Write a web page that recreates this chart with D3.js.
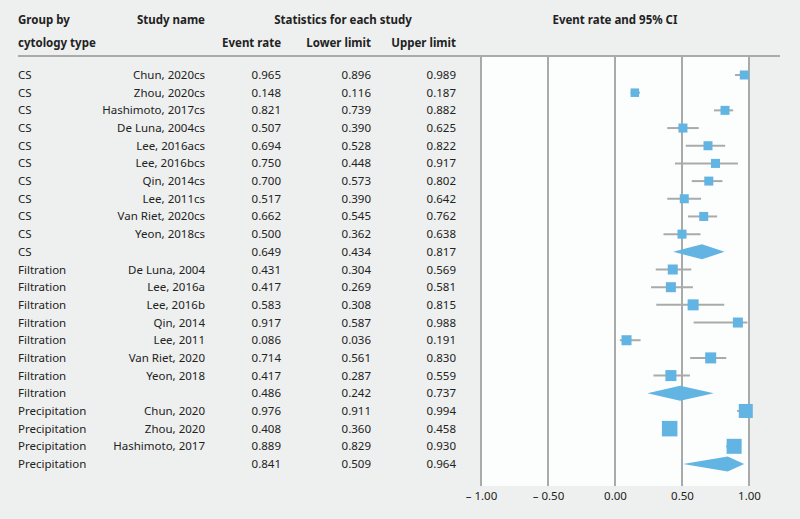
<!DOCTYPE html>
<html><head><meta charset="utf-8">
<script src="https://cdn.jsdelivr.net/npm/d3@7"></script>
<style>
html,body{margin:0;padding:0;background:#eef0ef;}
svg{display:block;font-family:"Noto Sans",sans-serif;}
</style></head>
<body>
<svg id="c" width="800" height="519"></svg>
<script>
const groups = ["CS","CS","CS","CS","CS","CS","CS","CS","CS","CS","CS",
  "Filtration","Filtration","Filtration","Filtration","Filtration","Filtration","Filtration","Filtration",
  "Precipitation","Precipitation","Precipitation","Precipitation"];
const studies = ["Chun, 2020cs","Zhou, 2020cs","Hashimoto, 2017cs","De Luna, 2004cs","Lee, 2016acs","Lee, 2016bcs","Qin, 2014cs","Lee, 2011cs","Van Riet, 2020cs","Yeon, 2018cs","",
  "De Luna, 2004","Lee, 2016a","Lee, 2016b","Qin, 2014","Lee, 2011","Van Riet, 2020","Yeon, 2018","",
  "Chun, 2020","Zhou, 2020","Hashimoto, 2017",""];
const eventRate = [0.965,0.148,0.821,0.507,0.694,0.750,0.700,0.517,0.662,0.500,0.649,
  0.431,0.417,0.583,0.917,0.086,0.714,0.417,0.486,
  0.976,0.408,0.889,0.841];
const lowerLimit = [0.896,0.116,0.739,0.390,0.528,0.448,0.573,0.390,0.545,0.362,0.434,
  0.304,0.269,0.308,0.587,0.036,0.561,0.287,0.242,
  0.911,0.360,0.829,0.509];
const upperLimit = [0.989,0.187,0.882,0.625,0.822,0.917,0.802,0.642,0.762,0.638,0.817,
  0.569,0.581,0.815,0.988,0.191,0.830,0.559,0.737,
  0.994,0.458,0.930,0.964];
// relative study weights (summary rows = 0)
const weights = [9,8.5,9,9,9,9,9,9,9,9,0,
  10,10,11,10,10,11,11,0,
  14,15.5,15,0];
const tickValues = [-1,-0.5,0,0.5,1];
const tickLabels = ["\u2013 1.00","\u2013 0.50","0.00","0.50","1.00"];

const rows = groups.map((g,i)=>({g, s:studies[i], e:eventRate[i], lo:lowerLimit[i], hi:upperLimit[i], w:weights[i], summary: studies[i]===""}));

const svg = d3.select("#c");
const fmt = d3.format(".3f");
const x = d3.scaleLinear().domain([-1,1]).range([481,749]);
const y = d3.scaleLinear().domain([0, rows.length-1]).range([75,464]);
const size = d3.scaleLinear().domain([0,15]).range([0,15]);
const txt = "#222";
const blue = "#62b4e2";
const grey = "#a9abab";

// plot white area
svg.append("rect").attr("x",x(-1)).attr("y",57).attr("width",x(1)-x(-1)).attr("height",429).attr("fill","#fcfdfd");

// header
const hdr = svg.append("g").attr("font-weight","bold").attr("font-size",11.5).attr("fill",txt);
hdr.append("text").attr("x",18).attr("y",24).text("Group by");
hdr.append("text").attr("x",18).attr("y",47).text("cytology type");
hdr.append("text").attr("x",205).attr("y",24).attr("text-anchor","end").text("Study name");
hdr.append("text").attr("x",343).attr("y",24).attr("text-anchor","middle").text("Statistics for each study");
hdr.append("text").attr("x",281).attr("y",47).attr("text-anchor","end").text("Event rate");
hdr.append("text").attr("x",371).attr("y",47).attr("text-anchor","end").text("Lower limit");
hdr.append("text").attr("x",456).attr("y",47).attr("text-anchor","end").text("Upper limit");
hdr.append("text").attr("x",x(0)).attr("y",24).attr("text-anchor","middle").text("Event rate and 95% CI");
svg.append("line").attr("x1",18).attr("x2",780).attr("y1",56).attr("y2",56).attr("stroke",grey).attr("stroke-width",2);

// grid lines
svg.append("g").selectAll("line").data(tickValues).join("line")
  .attr("x1",d=>x(d)).attr("x2",d=>x(d)).attr("y1",57).attr("y2",486)
  .attr("stroke",grey).attr("stroke-width",2);

// axis labels
const ax = d3.axisBottom(x).tickValues(tickValues).tickFormat((d,i)=>tickLabels[i]).tickSize(0).tickPadding(0);
const axg = svg.append("g").attr("transform","translate(0,492)").call(ax);
axg.select(".domain").remove();
axg.selectAll("text").attr("font-size",11.5).attr("fill",txt).attr("font-family","'Noto Sans',sans-serif").attr("dy","0.71em");

// table text
const tb = svg.append("g").attr("font-size",11.5).attr("fill",txt);
rows.forEach((r,i)=>{
  const yy = y(i)+4;
  tb.append("text").attr("x",18).attr("y",yy).text(r.g);
  tb.append("text").attr("x",205).attr("y",yy).attr("text-anchor","end").text(r.s);
  tb.append("text").attr("x",281).attr("y",yy).attr("text-anchor","end").text(fmt(r.e));
  tb.append("text").attr("x",371).attr("y",yy).attr("text-anchor","end").text(fmt(r.lo));
  tb.append("text").attr("x",456).attr("y",yy).attr("text-anchor","end").text(fmt(r.hi));
});

// CI lines
const studyRows = rows.map((r,i)=>({...r,i})).filter(r=>!r.summary);
svg.append("g").selectAll("line").data(studyRows).join("line")
  .attr("x1",d=>x(d.lo)).attr("x2",d=>x(d.hi)).attr("y1",d=>y(d.i)).attr("y2",d=>y(d.i))
  .attr("stroke",grey).attr("stroke-width",2);
svg.append("g").selectAll("rect").data(studyRows).join("rect")
  .attr("x",d=>x(d.e)-size(d.w)/2).attr("y",d=>y(d.i)-size(d.w)/2)
  .attr("width",d=>size(d.w)).attr("height",d=>size(d.w)).attr("fill",blue);

// summary diamonds
const sumRows = rows.map((r,i)=>({...r,i})).filter(r=>r.summary);
svg.append("g").selectAll("path").data(sumRows).join("path")
  .attr("d",d=>{const c=y(d.i), h=7.5;
    return `M${x(d.lo)},${c}L${x(d.e)},${c-h}L${x(d.hi)},${c}L${x(d.e)},${c+h}Z`;})
  .attr("fill",blue);
</script>
</body></html>
